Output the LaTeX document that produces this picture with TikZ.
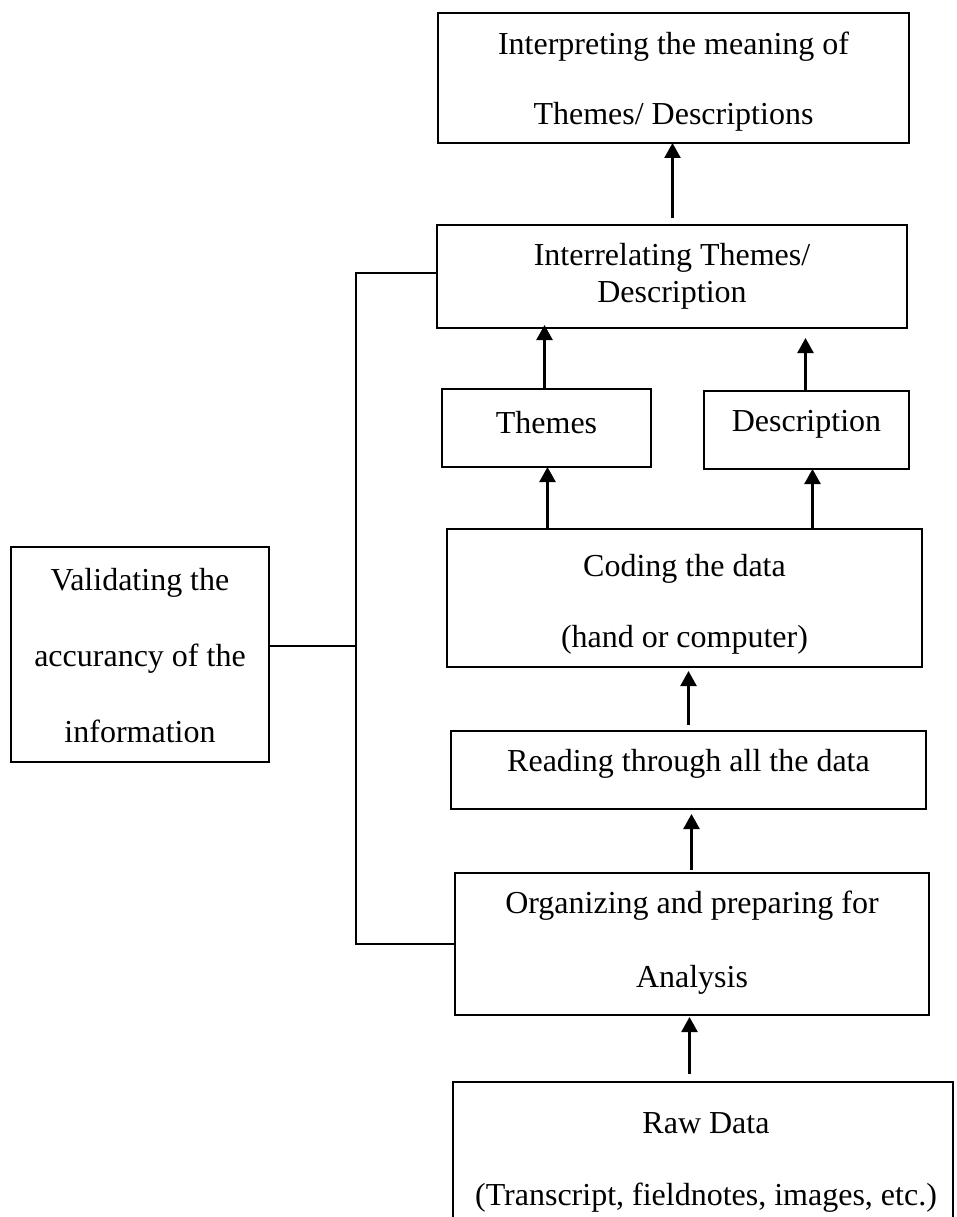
\documentclass[tikz,border=0pt]{standalone}
\usepackage{fontspec}
\setmainfont{Liberation Serif}
\usetikzlibrary{arrows.meta,calc}
\begin{document}
\begin{tikzpicture}[x=1pt,y=-1pt,
  box/.style={draw, line width=2pt, inner sep=0pt, outer sep=0pt},
  txt/.style={align=center, inner sep=0pt, font=\fontsize{32}{38}\selectfont},
  arr/.style={line width=2.4pt, -{Triangle[width=16pt,length=15pt]}},
  conn/.style={line width=2pt}]
\useasboundingbox (0,0) rectangle (956,1217);

% boxes
\node[box, minimum width=471pt, minimum height=130pt] (top) at (673.5,78) {};
\node[box, minimum width=470pt, minimum height=103pt] (inter) at (672,276.5) {};
\node[box, minimum width=209pt, minimum height=78pt] (themes) at (546.5,428) {};
\node[box, minimum width=205pt, minimum height=78pt] (desc) at (806.5,430) {};
\node[box, minimum width=475pt, minimum height=138pt] (coding) at (684.5,598) {};
\node[box, minimum width=475pt, minimum height=78pt] (reading) at (688.5,770) {};
\node[box, minimum width=474pt, minimum height=142pt] (organ) at (692,944) {};
\node[draw=none, inner sep=0pt, outer sep=0pt, minimum width=500pt, minimum height=136pt] (raw) at (703,1150) {};
\draw[conn] (raw.south west) -- (raw.north west) -- (raw.north east) -- (raw.south east);
\node[box, minimum width=258pt, minimum height=215pt] (valid) at (140,654.5) {};

% texts
\node[txt, font=\fontsize{32}{70}\selectfont] (ttop) at (673.5,82) {Interpreting the meaning of\\Themes/ Descriptions};
\node[txt, font=\fontsize{32}{37}\selectfont] (tinter) at (672,276) {Interrelating Themes/\\Description};
\node[txt] (tthemes) at (546.5,423) {Themes};
\node[txt] (tdesc) at (806.5,424) {Description};
\node[txt, font=\fontsize{32}{71}\selectfont] (tcoding) at (684.5,604) {Coding the data\\(hand or computer)};
\node[txt] (treading) at (688.5,764) {Reading through all the data};
\node[txt, font=\fontsize{32}{74}\selectfont] (torgan) at (692,943) {Organizing and preparing for\\Analysis};
\node[txt, font=\fontsize{32}{72}\selectfont] (traw) at (706,1162) {Raw Data\\(Transcript, fieldnotes, images, etc.)};
\node[txt, font=\fontsize{32}{76}\selectfont] (tvalid) at (140,656) {Validating the\\accurancy of the\\information};

% arrows
\draw[arr] ($(inter.north)+(0.5,-7)$) -- ($(inter.north |- top.south)+(0.5,0)$);
\draw[arr] ($(themes.north)+(-2,0)$) -- ($(themes.north |- inter.south)+(-2,-3)$);
\draw[arr] ($(desc.north)+(-1,0)$) -- ($(desc.north |- inter.south)+(-1,10)$);
\draw[arr] ($(coding.north -| themes.south)+(1,0)$) -- ($(themes.south)+(1,0)$);
\draw[arr] ($(coding.north -| desc.south)+(6,0)$) -- ($(desc.south)+(6,0)$);
\draw[arr] ($(reading.north)+(0,-6)$) -- ($(reading.north |- coding.south)+(0,4)$);
\draw[arr] ($(organ.north)+(-0.5,-3)$) -- ($(organ.north |- reading.south)+(-0.5,5)$);
\draw[arr] ($(raw.north -| organ.south)+(-2.5,-8)$) -- ($(organ.south)+(-2.5,2)$);

% bracket
\coordinate (bx) at (356,600);
\draw[conn] ($(inter.west)+(0,-4)$) -- ($(inter.west -| bx)+(0,-4)$) -- (organ.west -| bx) -- (organ.west);
\draw[conn] ($(valid.east)+(0,-9)$) -- ($(valid.east -| bx)+(0,-9)$);
\end{tikzpicture}
\end{document}
